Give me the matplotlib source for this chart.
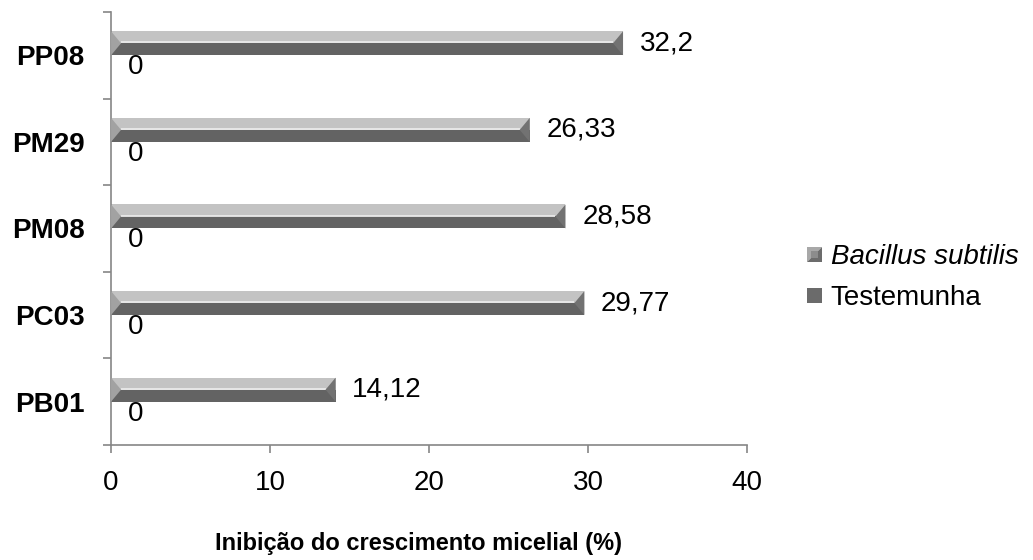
import matplotlib
matplotlib.use("Agg")
import matplotlib.pyplot as plt
from matplotlib.patches import Polygon, Rectangle
from matplotlib.legend_handler import HandlerBase

plt.rcParams["font.family"] = ["Liberation Sans", "DejaVu Sans"]

categories = ["PB01", "PC03", "PM08", "PM29", "PP08"]
bacillus = [14.12, 29.77, 28.58, 26.33, 32.2]
testemunha = [0, 0, 0, 0, 0]
xticks = [0, 10, 20, 30, 40]

LIGHT = "#c3c3c3"
DARK = "#636363"
SHINE = "#e9e9e9"
LEFT_END = "#a2a2a2"
RIGHT_END = "#727272"
AXIS = "#868686"
BAR_H = 0.277


def fmt(v):
    return f"{v:g}".replace(".", ",")


def bevel_bars(ax, ys, values, bevel):
    # flat top/bottom halves from barh, then the bevelled end caps on top
    half = BAR_H / 2
    ax.barh([y + half for y in ys], values, height=half, align="edge",
            color=LIGHT, lw=0, zorder=2)
    ax.barh(ys, values, height=half, align="edge", color=DARK, lw=0, zorder=2)
    for y, v in zip(ys, values):
        if v <= 0:
            continue
        mid = y + half
        top = y + BAR_H
        ax.plot([bevel, v - bevel], [mid + 0.01, mid + 0.01], color=SHINE,
                lw=1.3, zorder=3, solid_capstyle="butt")
        ax.add_patch(Polygon([(0, top), (bevel, mid), (0, y)], closed=True,
                             fc=LEFT_END, lw=0, zorder=4))
        ax.add_patch(Polygon([(v, top), (v - bevel, mid), (v, y)], closed=True,
                             fc=RIGHT_END, lw=0, zorder=4))


class BevelSquare(HandlerBase):
    def create_artists(self, legend, orig_handle, xdescent, ydescent,
                       width, height, fontsize, trans):
        x0, y0 = -xdescent, -ydescent
        s = min(width, height)
        x1, y1 = x0 + s, y0 + s
        upper = Polygon([(x0, y0), (x0, y1), (x1, y1)], closed=True,
                        fc="#a8a8a8", lw=0, transform=trans)
        lower = Polygon([(x0, y0), (x1, y0), (x1, y1)], closed=True,
                        fc="#6c6c6c", lw=0, transform=trans)
        inner = Rectangle((x0 + s * 0.25, y0 + s * 0.25), s * 0.5, s * 0.5,
                          fc="#8c8c8c", lw=0, transform=trans)
        return [upper, lower, inner]


class FlatSquare(HandlerBase):
    def create_artists(self, legend, orig_handle, xdescent, ydescent,
                       width, height, fontsize, trans):
        s = min(width, height)
        return [Rectangle((-xdescent, -ydescent), s, s, fc="#6b6b6b", lw=0,
                          transform=trans)]


fig = plt.figure(figsize=(10.33, 5.6), dpi=100)
ax = fig.add_axes([0.1075, 0.2054, 0.6157, 0.7732])
ax.set_xlim(0, 40)
ax.set_ylim(-0.5, len(categories) - 0.5)

bevel = 10 / (ax.bbox.width / 40)
ys = list(range(len(categories)))

bevel_bars(ax, ys, bacillus, bevel)
ax.barh([y - BAR_H for y in ys], testemunha, height=BAR_H, align="edge",
        color="#6b6b6b", lw=0, zorder=2)

for y, v in zip(ys, bacillus):
    ax.annotate(fmt(v), xy=(v, y + BAR_H / 2), xytext=(12, 0),
                textcoords="offset points", va="center", ha="left",
                fontsize=20)
for y, v in zip(ys, testemunha):
    ax.annotate(fmt(v), xy=(v, y - BAR_H / 2), xytext=(12, 0),
                textcoords="offset points", va="center", ha="left",
                fontsize=20)

for side in ("top", "right"):
    ax.spines[side].set_visible(False)
for side in ("left", "bottom"):
    ax.spines[side].set_color(AXIS)
    ax.spines[side].set_linewidth(1.2)

ax.set_xticks(xticks)
ax.set_xticklabels([str(t) for t in xticks])
ax.tick_params(axis="x", length=6, width=1.2, color=AXIS, labelsize=20, pad=12)

ax.set_yticks(ys)
ax.set_yticklabels(categories, fontweight="bold", fontsize=20)
ax.set_yticks([y - 0.5 for y in ys] + [len(categories) - 0.5], minor=True)
ax.tick_params(axis="y", which="major", length=0, pad=19)
ax.tick_params(axis="y", which="minor", length=6, width=1.2, color=AXIS)

fig.text(0.405, 0.03, "Inibição do crescimento micelial (%)", ha="center",
         va="center", fontsize=17, fontweight="bold")

h1 = Rectangle((0, 0), 1, 1)
h2 = Rectangle((0, 0), 1, 1)
leg = fig.legend([h1, h2], ["Bacillus subtilis", "Testemunha"],
                 handler_map={h1: BevelSquare(), h2: FlatSquare()},
                 loc="center left", bbox_to_anchor=(0.757, 0.505),
                 frameon=False, fontsize=20, handlelength=0.55,
                 handleheight=0.55, handletextpad=0.3, labelspacing=0.55)
leg.get_texts()[0].set_fontstyle("italic")

fig.savefig("out.png", dpi=100)
